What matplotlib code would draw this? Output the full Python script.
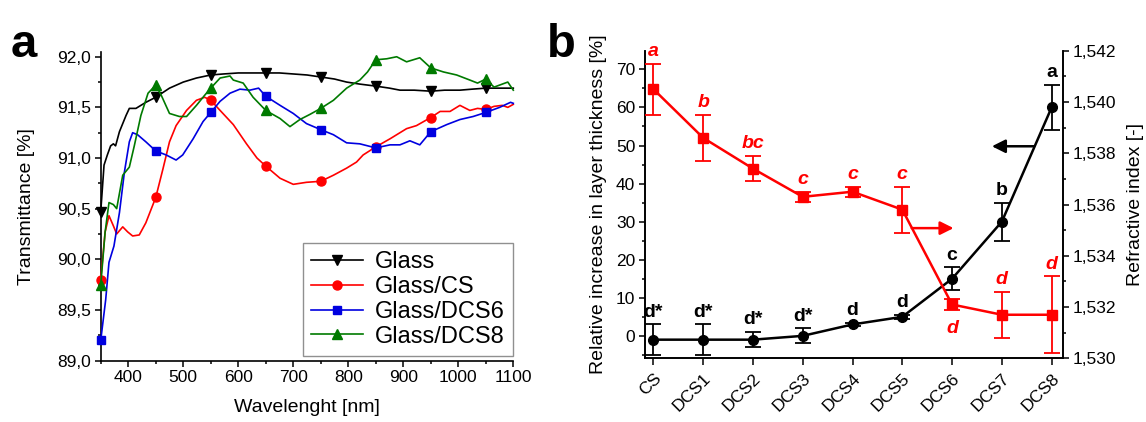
import matplotlib.pyplot as plt
import numpy as np
from matplotlib.ticker import MultipleLocator, FuncFormatter

plt.rcParams['font.family'] = ['Liberation Sans', 'DejaVu Sans']

# ---- panel a: transmittance spectra ----
glass_wl = [350, 356, 362, 368, 373, 377, 384, 396, 402, 414, 432, 450, 475, 500, 524, 550,
            573, 600, 625, 650, 675, 700, 725, 750, 775, 797, 821, 850, 875, 894, 920, 950,
            975, 1003, 1025, 1050, 1075, 1100]
glass_t = [90.47, 90.93, 91.03, 91.12, 91.14, 91.12, 91.26, 91.42, 91.49, 91.49, 91.55, 91.60,
           91.69, 91.75, 91.79, 91.82, 91.83, 91.84, 91.84, 91.84, 91.84, 91.83, 91.82, 91.80,
           91.78, 91.75, 91.73, 91.71, 91.69, 91.67, 91.67, 91.66, 91.67, 91.67, 91.68, 91.69,
           91.69, 91.69]

cs_wl = [350, 358, 365, 373, 379, 390, 399, 408, 420, 432, 450, 463, 475, 487, 506, 524, 539,
         550, 567, 591, 615, 634, 650, 676, 700, 724, 750, 773, 797, 815, 827, 850, 876, 906,
         924, 950, 967, 985, 1003, 1021, 1035, 1050, 1065, 1080, 1090, 1100]
cs_t = [89.80, 90.27, 90.43, 90.33, 90.25, 90.32, 90.27, 90.23, 90.24, 90.36, 90.61, 90.89,
        91.16, 91.32, 91.47, 91.57, 91.60, 91.57, 91.47, 91.33, 91.14, 91.00, 90.92, 90.80,
        90.74, 90.76, 90.77, 90.83, 90.90, 90.96, 91.03, 91.11, 91.19, 91.29, 91.32, 91.40,
        91.46, 91.46, 91.52, 91.47, 91.49, 91.48, 91.51, 91.52, 91.50, 91.53]

dcs6_wl = [350, 359, 365, 374, 384, 393, 402, 408, 417, 432, 450, 469, 487, 499, 518, 536, 550,
           567, 585, 603, 621, 637, 650, 676, 700, 724, 750, 773, 797, 821, 850, 876, 894, 912,
           930, 950, 979, 1003, 1027, 1050, 1075, 1095, 1100]
dcs6_t = [89.20, 89.60, 89.97, 90.13, 90.46, 90.86, 91.16, 91.25, 91.23, 91.16, 91.07, 91.03,
          90.98, 91.03, 91.19, 91.36, 91.45, 91.56, 91.64, 91.68, 91.67, 91.69, 91.61, 91.52,
          91.44, 91.34, 91.28, 91.23, 91.15, 91.14, 91.10, 91.13, 91.13, 91.17, 91.13, 91.26,
          91.33, 91.38, 91.41, 91.45, 91.50, 91.55, 91.54]

dcs8_wl = [350, 358, 365, 373, 379, 390, 402, 411, 423, 436, 450, 460, 475, 493, 506, 524, 539,
           550, 567, 585, 591, 609, 627, 650, 676, 694, 712, 730, 750, 773, 797, 821, 835, 850,
           870, 888, 906, 930, 950, 973, 997, 1021, 1035, 1050, 1065, 1080, 1090, 1100]
dcs8_t = [89.75, 90.27, 90.56, 90.54, 90.50, 90.83, 90.91, 91.12, 91.42, 91.64, 91.72, 91.62,
          91.44, 91.41, 91.41, 91.52, 91.62, 91.69, 91.79, 91.81, 91.77, 91.74, 91.60, 91.47,
          91.39, 91.31, 91.38, 91.43, 91.49, 91.57, 91.69, 91.77, 91.85, 91.97, 91.98, 92.00,
          91.95, 91.99, 91.89, 91.85, 91.82, 91.77, 91.74, 91.78, 91.70, 91.73, 91.75, 91.67]

marker_wl = [350, 450, 550, 650, 750, 850, 950, 1050]

# ---- panel b: layer thickness / refractive index ----
samples = ['CS', 'DCS1', 'DCS2', 'DCS3', 'DCS4', 'DCS5', 'DCS6', 'DCS7', 'DCS8']
thickness = [-1, -1, -1, 0, 3, 5, 15, 30, 60]
thickness_err = [4, 4, 2, 2, 0.5, 0.5, 3, 5, 6]
thickness_groups = ['d*', 'd*', 'd*', 'd*', 'd', 'd', 'c', 'b', 'a']

ref_index = [1.5405, 1.5386, 1.5374, 1.5363, 1.5365, 1.5358, 1.5321, 1.5317, 1.5317]
ref_index_err = [0.0010, 0.0009, 0.0005, 0.0002, 0.0002, 0.0009, 0.0002, 0.0009, 0.0015]
ref_index_groups = ['a', 'b', 'bc', 'c', 'c', 'c', 'd', 'd', 'd']
ref_label_below = [False, False, False, False, False, False, True, False, False]


def comma(fmt):
    return FuncFormatter(lambda v, pos: (fmt % v).replace('.', ','))


def style_axis(ax):
    ax.tick_params(which='major', direction='out', length=4, width=1.1, labelsize=12.5, pad=3)
    ax.tick_params(which='minor', direction='out', length=2.3, width=1.1)
    for s in ax.spines.values():
        s.set_linewidth(1.2)
    ax.spines['top'].set_visible(False)


fig = plt.figure(figsize=(11.46, 4.22), dpi=100)

# panel a
ax_a = fig.add_axes([0.0879, 0.1457, 0.36, 0.7318])
series = [
    (glass_wl, glass_t, 'black', 'v', 7, 'Glass'),
    (cs_wl, cs_t, '#ff0000', 'o', 6.5, 'Glass/CS'),
    (dcs6_wl, dcs6_t, '#0000e0', 's', 6, 'Glass/DCS6'),
    (dcs8_wl, dcs8_t, '#007a00', '^', 7, 'Glass/DCS8'),
]
for wl, t, col, mk, ms, lab in series:
    idx = [i for i, w in enumerate(wl) if w in marker_wl]
    ax_a.plot(wl, t, color=col, lw=1.2, marker=mk, ms=ms, markevery=idx, label=lab,
              clip_on=False, zorder=3)

ax_a.set_xlim(350, 1100)
ax_a.set_ylim(89.0, 92.05)
ax_a.xaxis.set_major_locator(MultipleLocator(100))
ax_a.xaxis.set_minor_locator(MultipleLocator(50))
ax_a.yaxis.set_major_locator(MultipleLocator(0.5))
ax_a.yaxis.set_minor_locator(MultipleLocator(0.25))
ax_a.set_xticks(range(400, 1101, 100))
ax_a.yaxis.set_major_formatter(comma('%.1f'))
style_axis(ax_a)
ax_a.spines['right'].set_visible(False)
ax_a.set_xlabel('Wavelenght [nm]', fontsize=14)
ax_a.set_ylabel('Transmittance [%]', fontsize=14)
ax_a.xaxis.set_label_coords(0.5, -0.125)
ax_a.yaxis.set_label_coords(-0.16, 0.5)

leg = ax_a.legend(loc='lower right', bbox_to_anchor=(1.0, 0.015), borderaxespad=0,
                  fontsize=17, fancybox=False, edgecolor='#909090', framealpha=1,
                  handlelength=2.2, handletextpad=0.5, labelspacing=0.12, borderpad=0.35)
leg.get_frame().set_linewidth(1.0)

fig.text(0.009, 0.865, 'a', fontsize=34, fontweight='bold')

# panel b
ax_b = fig.add_axes([0.5628, 0.1509, 0.3644, 0.7289])
ax_r = ax_b.twinx()
x = np.arange(len(samples))

ax_b.errorbar(x, thickness, yerr=thickness_err, color='black', lw=1.8, marker='o', ms=7,
              capsize=6, capthick=1.3, elinewidth=1.3, clip_on=False, zorder=3)
ax_r.errorbar(x, ref_index, yerr=ref_index_err, color='#ff0000', lw=1.8, marker='s', ms=7,
              capsize=6, capthick=1.3, elinewidth=1.3, clip_on=False, zorder=3)

for xi, v, e, g in zip(x, thickness, thickness_err, thickness_groups):
    ax_b.text(xi, v + e + 2, g, ha='center', va='baseline', fontsize=14,
              fontweight='bold', color='black')

for xi, v, e, g, below in zip(x, ref_index, ref_index_err, ref_index_groups, ref_label_below):
    yy = v - e - 0.0009 if below else v + e + 0.0003
    ax_r.text(xi, yy, g, ha='center', va='baseline', fontsize=14, fontweight='bold',
              fontstyle='italic', color='#ff0000')

ax_b.annotate('', xy=(6.8, 49.8), xytext=(7.65, 49.8),
              arrowprops=dict(arrowstyle='-|>,head_length=0.5,head_width=0.25',
                              color='black', lw=1.8, mutation_scale=16, shrinkA=0, shrinkB=0))
ax_b.annotate('', xy=(6.03, 28.3), xytext=(5.19, 28.3),
              arrowprops=dict(arrowstyle='-|>,head_length=0.5,head_width=0.25',
                              color='#ff0000', lw=1.8, mutation_scale=16, shrinkA=0, shrinkB=0))

ax_b.set_xlim(-0.17, 8.22)
ax_b.set_ylim(-5.9, 74.9)
ax_r.set_ylim(1.530, 1.542)
ax_b.set_xticks(x)
ax_b.set_xticklabels(samples, rotation=45, ha='right', rotation_mode='anchor')
ax_b.yaxis.set_major_locator(MultipleLocator(10))
ax_b.yaxis.set_minor_locator(MultipleLocator(5))
ax_r.yaxis.set_major_locator(MultipleLocator(0.002))
ax_r.yaxis.set_minor_locator(MultipleLocator(0.001))
ax_r.yaxis.set_major_formatter(comma('%.3f'))
style_axis(ax_b)
style_axis(ax_r)
ax_b.tick_params(axis='x', which='major', length=5, pad=4)
ax_b.set_ylabel('Relative increase in layer thickness [%]', fontsize=14)
ax_r.set_ylabel('Refractive index [-]', fontsize=14)
ax_b.yaxis.set_label_coords(-0.09, 0.5)
ax_r.yaxis.set_label_coords(1.155, 0.5)

fig.text(0.477, 0.865, 'b', fontsize=34, fontweight='bold')

fig.savefig('out.png', dpi=100)
